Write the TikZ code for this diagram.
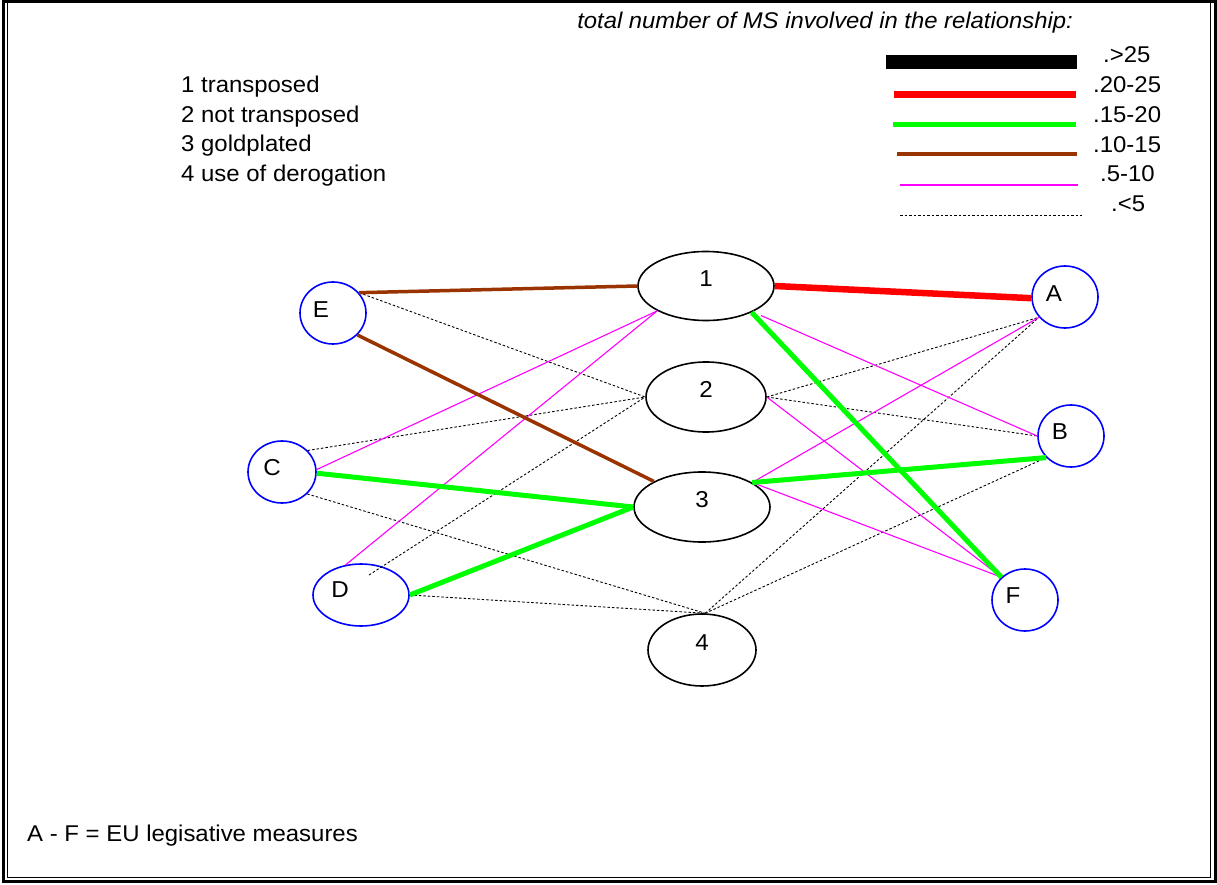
\documentclass[tikz,border=0pt]{standalone}
\usepackage{fontspec}
\setmainfont{Liberation Sans}[FakeStretch=1.05]
\usetikzlibrary{shapes.geometric}
\definecolor{linkbrown}{HTML}{993300}
\definecolor{linkred}{HTML}{FF0000}
\definecolor{linkgreen}{HTML}{00FF00}
\definecolor{linkpink}{HTML}{FF00FF}
\definecolor{measureblue}{HTML}{0000FF}
\tikzset{
  stage/.style={ellipse, draw=black, line width=1.6pt, inner sep=0pt},
  measure/.style={ellipse, draw=measureblue, line width=1.6pt, inner sep=0pt},
  tag/.style={font=\fontsize{23}{27}\selectfont, inner sep=0pt, anchor=base},
  txt/.style={font=\fontsize{22.8}{27}\selectfont, inner sep=0pt, anchor=base west},
  wheavy/.style={black, line width=14pt},
  wred/.style={linkred, line width=6.5pt},
  wgreen/.style={linkgreen, line width=5pt},
  wbrown/.style={linkbrown, line width=3.5pt},
  wpink/.style={linkpink, line width=1.1pt},
  wfaint/.style={black, line width=0.9pt, dash pattern=on 2.5pt off 2pt},
}
\begin{document}
\begin{tikzpicture}[x=1pt,y=-1pt]
\useasboundingbox (0,0) rectangle (1217,885);

% double frame
\draw[line width=3pt] (3,1.5) rectangle (1215,881.5);
\draw[line width=1.3pt] (7.5,1.5) -- (7.5,877.5) -- (1210.5,877.5) -- (1210.5,1.5);

% key to the stages
\node[txt] (k1) at (181,93) {1\ transposed};
\node[txt] (k2) at (181,122.5) {2\ not transposed};
\node[txt] (k3) at (181,152) {3\ goldplated};
\node[txt] (k4) at (181,181.5) {4\ use of derogation};

% key to the line weights
\node[txt, anchor=base east, font=\fontsize{22.7}{27}\selectfont\itshape] (ktitle) at (1073,29)
  {total number of MS involved in the relationship:};
\draw[wheavy] (886,62) -- (1077,62);
\draw[linkred, line width=7pt] (894,94.5) -- (1076,94.5);
\draw[wgreen] (893,124.5) -- (1076,124.5);
\draw[wbrown] (897,154) -- (1077,154);
\draw[wpink] (900,185) -- (1078,185);
\draw[wfaint] (900,215) -- (1082,215);
\node[txt] (v1) at (1103,63) {.>25};
\node[txt] (v2) at (1093,93) {.20-25};
\node[txt] (v3) at (1093,123) {.15-20};
\node[txt] (v4) at (1093,153) {.10-15};
\node[txt] (v5) at (1100,182) {.5-10};
\node[txt] (v6) at (1111,212) {.<5};

\node[txt] (foot) at (27,841) {A - F = EU legisative measures};

% stages
\node[stage, minimum width=136pt, minimum height=69pt] (s1) at (706,286) {};
\node[stage, minimum width=120pt, minimum height=70pt] (s2) at (706,397) {};
\node[stage, minimum width=136pt, minimum height=70pt] (s3) at (702,507) {};
\node[stage, minimum width=108pt, minimum height=72pt] (s4) at (702,650) {};
\node[tag] (s1t) at (s1.center) {1};
\node[tag] (s2t) at (s2.center) {2};
\node[tag] (s3t) at (s3.center) {3};
\node[tag] (s4t) at (s4.center) {4};

% measures
\node[measure, minimum width=66pt, minimum height=62pt] (mE) at (333,313) {};
\node[measure, minimum width=68pt, minimum height=62pt] (mC) at (282,472) {};
\node[measure, minimum width=96pt, minimum height=62pt] (mD) at (361,595) {};
\node[measure, minimum width=66pt, minimum height=62pt] (mA) at (1065,297) {};
\node[measure, minimum width=66pt, minimum height=62pt] (mB) at (1071,436) {};
\node[measure, minimum width=66pt, minimum height=62pt] (mF) at (1025,600) {};
\node[tag] (mEt) at ([xshift=-12pt,yshift=-4pt]mE.center) {E};
\node[tag] (mCt) at ([xshift=-10pt,yshift=-3pt]mC.center) {C};
\node[tag] (mDt) at ([xshift=-21pt,yshift=-2pt]mD.center) {D};
\node[tag] (mAt) at ([xshift=-11pt,yshift=-4pt]mA.center) {A};
\node[tag] (mBt) at ([xshift=-11pt,yshift=-3pt]mB.center) {B};
\node[tag] (mFt) at ([xshift=-12pt,yshift=-3pt]mF.center) {F};
\coordinate (dtail) at ([xshift=8pt,yshift=20pt]mD.center);

% relationships: fewer than 5
\draw[wfaint] (mE.38) -- (s2.west);
\draw[wfaint] (mC.40) -- (s2.west);
\draw[wfaint] (dtail) -- (s2.west);
\draw[wfaint] (mC.-41) -- (s4.85);
\draw[wfaint] (mD.east) -- (s4.85);
\draw[wfaint] (s2.east) -- (mA.218);
\draw[wfaint] (s2.east) -- (mB.180);
\draw[wfaint] (s4.85) -- (mA.218);
\draw[wfaint] (s4.85) -- (mB.221);

% 5-10
\draw[wpink] (mC.4) -- (s1.207);
\draw[wpink] (mD.117) -- (s1.207);
\draw[wpink, shorten <=9pt] (s1.-29) -- (mB.180);
\draw[wpink] (s2.east) -- (mF.136);
\draw[wpink] (s3.26) -- (mA.218);
\draw[wpink] (s3.26) -- (mF.136);

% 10-15
\draw[wbrown] (mE.38) -- (s1.west);
\draw[wbrown] (mE.-42) -- (s3.152);

% 15-20
\draw[wgreen] (s1.-30) -- (mF.136);
\draw[wgreen] (mC.-2) -- (s3.west);
\draw[wgreen] (mD.east) -- (s3.west);
\draw[wgreen] (s3.26) -- (mB.221);

% 20-25
\draw[wred] (s1.east) -- (mA.182);
\end{tikzpicture}
\end{document}
